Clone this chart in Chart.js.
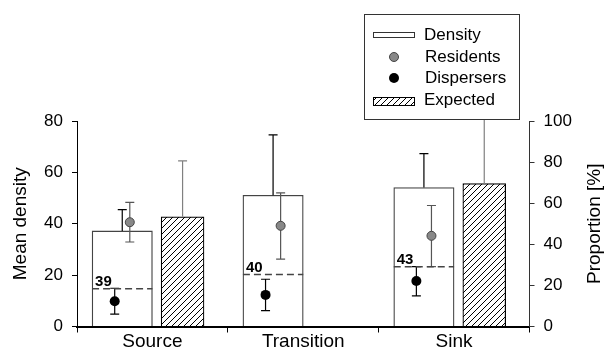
<!DOCTYPE html>
<html>
<head>
<meta charset="utf-8">
<style>
  html, body { margin: 0; padding: 0; background: #fff; }
</style>
<script src="https://cdn.jsdelivr.net/npm/chart.js@4"></script>
</head>
<body>
<canvas id="chart" width="606" height="352"></canvas>
<script>
const categories = ["Source", "Transition", "Sink"];
const density = [37.2, 51.1, 54.1];
const densityUpper = [45.5, 74.6, 67.3];
const expected = [42.7, null, 55.6];
const expectedUpper = [64.5, null, 88];
const residents = [40.6, 39.2, 35.3];
const residentsLower = [32.9, 26.2, 23.3];
const residentsUpper = [48.3, 52.0, 47.1];
const dispersers = [9.8, 12.3, 17.7];
const dispersersLower = [4.8, 6.2, 11.9];
const dispersersUpper = [14.9, 18.4, 23.3];
const thresholds = [14.7, 20.2, 23.3];
const thresholdLabels = ["39", "40", "43"];
const densityTicks = [0, 20, 40, 60, 80];
const proportionTicks = [0, 20, 40, 60, 80, 100];

const FONT = "'Liberation Sans', Arial, sans-serif";
const catPct = 0.8;
// density bar takes the left half of each group
const slot = catPct / 2;
const densityCentre = i => i - slot / 2;
const dotShift = 0.05;

// hatch pattern for the expected bars
function hatch() {
  const c = document.createElement("canvas");
  c.width = 6; c.height = 6;
  const g = c.getContext("2d");
  g.fillStyle = "#fff";
  g.fillRect(0, 0, 6, 6);
  g.strokeStyle = "#000";
  g.lineWidth = 1;
  g.beginPath();
  g.moveTo(-1, 7); g.lineTo(7, -1);
  g.moveTo(-1, 1); g.lineTo(1, -1);
  g.moveTo(5, 7); g.lineTo(7, 5);
  g.stroke();
  return g.createPattern(c, "repeat");
}
const ctx0 = document.getElementById("chart").getContext("2d");

const thresholdData = [];
thresholds.forEach((v, i) => {
  thresholdData.push({ x: i - slot, y: v }, { x: i, y: v }, { x: i + 0.1, y: null });
});

// tick marks sit between groups, labels at group centres
const xTicks = [];
for (let v = -0.5; v <= categories.length - 0.5; v += 0.5) xTicks.push(v);

// error bars, drawn after the bars and before the dots
const errorBars = {
  id: "errorBars",
  beforeDatasetDraw(chart, args) {
    if (chart.data.datasets[args.index].label !== "thresholds") return;
    const { ctx, scales: { y } } = chart;
    const metaOf = label => chart.getDatasetMeta(chart.data.datasets.findIndex(d => d.label === label));
    const dMeta = metaOf("Density"), eMeta = metaOf("Expected");
    const rMeta = metaOf("Residents"), pMeta = metaOf("Dispersers");
    const cap = 4.5;
    function line(x, lo, hi, color, lowCap) {
      const y1 = y.getPixelForValue(lo), y2 = y.getPixelForValue(hi);
      ctx.save();
      ctx.strokeStyle = color;
      ctx.lineWidth = 1.2;
      ctx.beginPath();
      ctx.moveTo(x, y1); ctx.lineTo(x, y2);
      ctx.moveTo(x - cap, y2); ctx.lineTo(x + cap, y2);
      if (lowCap) { ctx.moveTo(x - cap, y1); ctx.lineTo(x + cap, y1); }
      ctx.stroke();
      ctx.restore();
    }
    categories.forEach((c, i) => {
      line(dMeta.data[i].x, density[i], densityUpper[i], "#000", false);
      if (expected[i] != null) line(eMeta.data[i].x, expected[i], expectedUpper[i], "#808080", false);
      line(rMeta.data[i].x, residentsLower[i], residentsUpper[i], "#555", true);
      line(pMeta.data[i].x, dispersersLower[i], dispersersUpper[i], "#000", true);
    });
  },
  afterDatasetsDraw(chart) {
    const { ctx, scales: { y } } = chart;
    const dMeta = chart.getDatasetMeta(chart.data.datasets.findIndex(d => d.label === "Density"));
    ctx.save();
    ctx.fillStyle = "#000";
    ctx.font = "bold 15px " + FONT;
    ctx.textAlign = "left";
    ctx.textBaseline = "alphabetic";
    thresholds.forEach((v, i) => {
      const bar = dMeta.data[i];
      ctx.fillText(thresholdLabels[i], bar.x - bar.width / 2 + 3, y.getPixelForValue(v) - 3);
    });
    ctx.restore();
  }
};

// boxed legend and the right axis title
const extras = {
  id: "extras",
  afterDraw(chart) {
    const { ctx, chartArea } = chart;
    ctx.save();
    ctx.fillStyle = "#fff";
    ctx.fillRect(364.5, 14.5, 155, 105);
    ctx.strokeStyle = "#333";
    ctx.lineWidth = 1;
    ctx.strokeRect(364.5, 14.5, 155, 105);

    ctx.strokeRect(373.5, 32.5, 41, 5);
    ctx.beginPath();
    ctx.arc(394, 57, 4.5, 0, Math.PI * 2);
    ctx.fillStyle = "#888";
    ctx.fill();
    ctx.strokeStyle = "#444";
    ctx.stroke();
    ctx.beginPath();
    ctx.arc(394, 78, 5, 0, Math.PI * 2);
    ctx.fillStyle = "#000";
    ctx.fill();
    ctx.fillStyle = hatch();
    ctx.fillRect(373.5, 97.5, 41, 8);
    ctx.strokeStyle = "#000";
    ctx.strokeRect(373.5, 97.5, 41, 8);

    ctx.fillStyle = "#000";
    ctx.font = "17px " + FONT;
    ctx.textAlign = "left";
    ctx.textBaseline = "middle";
    ctx.fillText("Density", 424, 35);
    ctx.fillText("Residents", 425, 57);
    ctx.fillText("Dispersers", 425, 78);
    ctx.fillText("Expected", 424, 100);

    ctx.font = "19px " + FONT;
    ctx.textAlign = "center";
    ctx.translate(595, (chartArea.top + chartArea.bottom) / 2);
    ctx.rotate(-Math.PI / 2);
    ctx.fillText("Proportion [%]", 0, 0);
    ctx.restore();
  }
};

new Chart(ctx0, {
  type: "bar",
  data: {
    datasets: [
      {
        type: "line",
        label: "Residents",
        data: residents.map((v, i) => ({ x: densityCentre(i) + dotShift, y: v })),
        showLine: false,
        pointRadius: 4.5,
        pointBackgroundColor: "#888",
        pointBorderColor: "#444",
        pointBorderWidth: 1,
        order: 1
      },
      {
        type: "line",
        label: "Dispersers",
        data: dispersers.map((v, i) => ({ x: densityCentre(i) - dotShift, y: v })),
        showLine: false,
        pointRadius: 5,
        pointBackgroundColor: "#000",
        pointBorderColor: "#000",
        pointBorderWidth: 0,
        order: 2
      },
      {
        type: "line",
        label: "thresholds",
        data: thresholdData,
        borderColor: "#444",
        borderWidth: 1.5,
        borderDash: [7, 4],
        pointRadius: 0,
        spanGaps: false,
        order: 3
      },
      {
        label: "Density",
        data: density.map((v, i) => ({ x: i, y: v })),
        backgroundColor: "#fff",
        borderColor: "#444",
        borderWidth: 1.3,
        barThickness: "flex",
        categoryPercentage: catPct,
        barPercentage: 1.0,
        order: 4
      },
      {
        label: "Expected",
        data: expected.map((v, i) => ({ x: i, y: v })),
        backgroundColor: hatch(),
        borderColor: "#000",
        borderWidth: 1.2,
        barThickness: "flex",
        categoryPercentage: catPct,
        barPercentage: 0.71,
        order: 5
      }
    ]
  },
  options: {
    responsive: false,
    animation: false,
    devicePixelRatio: 1,
    layout: { padding: { top: 121, left: 0, right: 0, bottom: 0 } },
    plugins: { legend: { display: false }, tooltip: { enabled: false } },
    scales: {
      x: {
        type: "linear",
        min: -0.5,
        max: categories.length - 0.5,
        offset: false,
        afterBuildTicks: s => { s.ticks = xTicks.map(v => ({ value: v })); },
        grid: {
          offset: false,
          drawOnChartArea: false,
          tickLength: 6,
          tickColor: c => Number.isInteger(c.tick && c.tick.value) ? "rgba(0,0,0,0)" : "#000"
        },
        border: { color: "#000", width: 2 },
        ticks: {
          autoSkip: false,
          maxRotation: 0,
          color: "#000",
          font: { family: FONT, size: 19 },
          padding: -2,
          callback: v => Number.isInteger(v) ? categories[v] : ""
        },
        afterFit: s => { s.height = 25.5; }
      },
      y: {
        position: "left",
        min: 0,
        max: 80,
        afterBuildTicks: s => { s.ticks = densityTicks.map(v => ({ value: v })); },
        grid: { drawOnChartArea: false, tickLength: 5, color: "#000" },
        border: { color: "#000", width: 1 },
        ticks: { color: "#000", font: { family: FONT, size: 17 }, padding: 9 },
        title: { display: true, text: "Mean density", color: "#000", font: { family: FONT, size: 19 }, padding: { top: 9, bottom: 0 } },
        afterFit: s => { s.width = 77; }
      },
      y2: {
        position: "right",
        min: 0,
        max: 100,
        afterBuildTicks: s => { s.ticks = proportionTicks.map(v => ({ value: v })); },
        grid: { drawOnChartArea: false, tickLength: 5, color: "#333" },
        border: { color: "#333", width: 1 },
        ticks: { color: "#000", font: { family: FONT, size: 17 }, padding: 9 },
        afterFit: s => { s.width = 76.5; }
      }
    }
  },
  plugins: [errorBars, extras]
});
</script>
</body>
</html>
